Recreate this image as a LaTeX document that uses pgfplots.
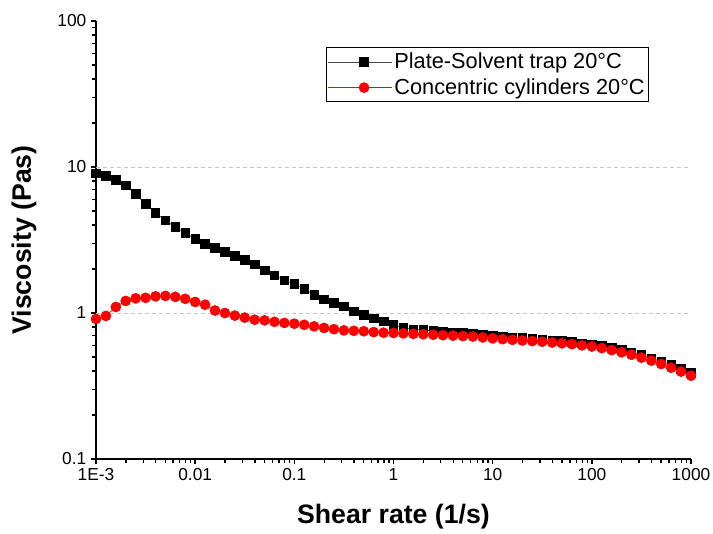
\documentclass[border=0pt]{standalone}
\usepackage{pgfplots}
\usepackage{pgfplotstable}
\pgfplotsset{compat=1.18}
\usepackage{fontspec}
\setmainfont{Liberation Sans}

\pgfplotstableread{
x b r
1e-3 9.02 0.91
1.259e-3 8.68 0.955
1.585e-3 8.20 1.10
1.995e-3 7.50 1.21
2.512e-3 6.54 1.26
3.162e-3 5.59 1.27
3.981e-3 4.86 1.30
5.012e-3 4.31 1.31
6.310e-3 3.88 1.29
7.943e-3 3.53 1.25
1e-2 3.21 1.19
1.259e-2 2.98 1.14
1.585e-2 2.79 1.04
1.995e-2 2.62 1.00
2.512e-2 2.47 0.96
3.162e-2 2.31 0.93
3.981e-2 2.15 0.90
5.012e-2 1.96 0.89
6.310e-2 1.81 0.87
7.943e-2 1.68 0.855
1e-1 1.58 0.845
1.259e-1 1.46 0.83
1.585e-1 1.33 0.81
1.995e-1 1.24 0.79
2.512e-1 1.17 0.775
3.162e-1 1.11 0.76
3.981e-1 1.03 0.755
5.012e-1 0.97 0.75
6.310e-1 0.92 0.74
7.943e-1 0.88 0.733
1 0.83 0.73
1.259 0.79 0.725
1.585 0.775 0.72
1.995 0.765 0.715
2.512 0.755 0.71
3.162 0.748 0.705
3.981 0.74 0.70
5.012 0.733 0.695
6.310 0.725 0.69
7.943 0.715 0.68
10 0.705 0.67
12.59 0.69 0.662
15.85 0.682 0.655
19.95 0.675 0.648
25.12 0.668 0.642
31.62 0.66 0.636
39.81 0.652 0.628
50.12 0.643 0.62
63.10 0.633 0.612
79.43 0.622 0.60
100 0.61 0.59
125.9 0.596 0.575
158.5 0.578 0.557
199.5 0.558 0.538
251.2 0.538 0.518
316.2 0.515 0.495
398.1 0.49 0.472
501.2 0.466 0.447
631.0 0.442 0.422
794.3 0.415 0.397
1000 0.389 0.372
}\data

\begin{document}
\begin{tikzpicture}
\begin{axis}[
  scale only axis, width=446.25pt, height=328.5pt,
  xmode=log, ymode=log,
  xmin=1e-3, xmax=1000, ymin=0.1, ymax=100,
  axis x line*=bottom, axis y line*=left,
  axis line style={line width=1pt, black},
  xtick={1e-3,1e-2,1e-1,1,10,100,1000},
  xticklabels={1E-3,0.01,0.1,1,10,100,1000},
  ytick={0.1,1,10,100},
  yticklabels={0.1,1,10,100},
  xtick align=outside, ytick align=outside,
  tickwidth=3.75pt,
  xtick style={draw=black, line width=1pt},
  ytick style={draw=black, line width=1pt},
  /pgf/number format/assume math mode=true,
  ticklabel style={font=\fontsize{13}{15}\selectfont},
  xlabel={Shear rate (1/s)},
  ylabel={Viscosity (Pas)},
  label style={font=\fontsize{20}{23}\selectfont\bfseries},
  xlabel style={at={(axis description cs:0.5,-0.1324)}, anchor=center},
  ylabel style={at={(axis description cs:-0.121,0.5)}, anchor=center},
  legend style={at={(axis description cs:0.3866,0.94)}, anchor=north west,
     draw=black, line width=0.6pt, fill=white,
     font=\fontsize{16.3}{18}\selectfont, inner xsep=1pt, inner ysep=2.5pt,
     nodes={inner sep=1.5pt}, row sep=3pt},
  legend cell align=left,
  legend image code/.code={
     \path (0pt,0pt) -- (48pt,0pt);
     \draw[mark repeat=2, mark phase=2, #1] plot coordinates {(9pt,0pt) (27pt,0pt) (45pt,0pt)};},
]
\draw[gray!45, line width=0.6pt, dash pattern=on 3pt off 2.25pt]
  (axis cs:1e-3,1) -- (axis cs:1000,1)
  (axis cs:1e-3,10) -- (axis cs:1000,10);
\addplot[black!70, line width=0.5pt, mark=square*, mark size=3.2pt,
  mark options={solid, fill=black, draw=black}] table[x=x, y=b] {\data};
\addlegendentry{Plate-Solvent trap 20°C}
\addplot[red, line width=0.5pt, mark=*, mark size=3.75pt,
  mark options={solid, fill=red, draw=red}] table[x=x, y=r] {\data};
\addlegendentry{Concentric cylinders 20°C}
\end{axis}
% axis tick marks (decoration), drawn in the picture's frame: axis box is 446.25pt x 328.5pt at the origin
\foreach \d in {0,...,5}{%
  \foreach \m in {2,...,9}{%
    \pgfmathsetmacro\xx{74.375*(\d+log10(\m))}%
    \draw[black, line width=1pt] (\xx pt,0pt) -- (\xx pt,-2.6pt);}}
\foreach \d in {0,...,6}{%
    \pgfmathsetmacro\xx{74.375*\d}%
    \draw[black, line width=1pt] (\xx pt,0pt) -- (\xx pt,-3.75pt);}
\foreach \d in {0,1,2}{%
  \foreach \m in {2,...,9}{%
    \pgfmathsetmacro\yy{109.5*(\d+log10(\m))}%
    \draw[black, line width=1pt] (0pt,\yy pt) -- (-2.6pt,\yy pt);}}
\foreach \d in {0,...,3}{%
    \pgfmathsetmacro\yy{109.5*\d}%
    \draw[black, line width=1pt] (0pt,\yy pt) -- (-3.75pt,\yy pt);}
\pgfresetboundingbox
\path (-72pt,-55.5pt) rectangle (462.75pt,344.25pt);
\end{tikzpicture}
\end{document}
